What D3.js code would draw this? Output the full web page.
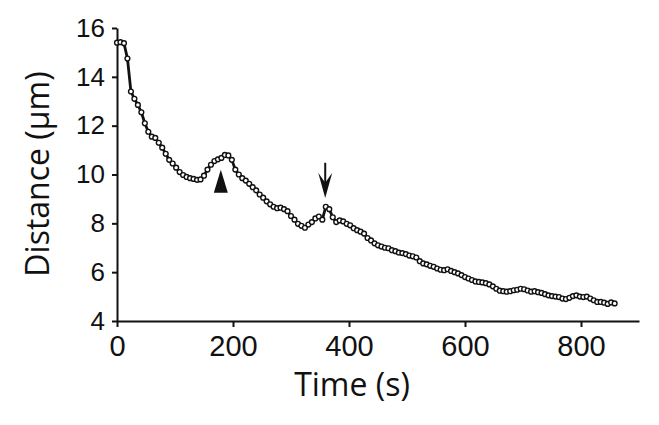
<!DOCTYPE html>
<head>
    <title>Distance vs time</title>
    <script src="https://d3js.org/d3.v7.min.js" charset="utf-8"></script>
    <style>
    body{
        margin: 0;
        background: #fff;
    }
    .axis path, .axis line { stroke: #111; stroke-width: 2px; }
    .axis text { fill: #111; font-family: "Liberation Sans", Arial, sans-serif; }
    .ylab text { font-size: 26px; }
    .xlab text { font-size: 29px; }
    text.title {
        font-family: "Open Sans", sans-serif;
        font-size: 32px;
        fill: #111;
        text-anchor: middle;
    }
    path.trace { fill: none; stroke: #111; stroke-width: 2.8px; }
    circle.pt { fill: #fff; stroke: #111; stroke-width: 1.4px; }
    </style>
</head>
<body>
<svg id="chart" width="659" height="425"></svg>

<script>
    // data: time (s) and distance (um)
    var times = [0,6,12,18,24,30,36,42,48,54,60,66,72,78,84,90,96,102,108,114,
        120,126,132,138,144,150,156,162,168,174,180,186,192,198,204,210,216,222,228,234,
        240,246,252,258,264,270,276,282,288,294,300,306,312,318,324,330,336,342,348,354,
        360,366,372,378,384,390,396,402,408,414,420,426,432,438,444,450,456,462,468,474,
        480,486,492,498,504,510,516,522,528,534,540,546,552,558,564,570,576,582,588,594,
        600,606,612,618,624,630,636,642,648,654,660,666,672,678,684,690,696,702,708,714,
        720,726,732,738,744,750,756,762,768,774,780,786,792,798,804,810,816,822,828,834,
        840,846,852,858];
    var distance = [15.40,15.42,15.38,14.75,13.40,13.10,12.85,12.55,12.10,11.75,11.55,11.50,11.30,11.10,10.85,10.60,10.45,10.28,10.10,9.98,
        9.90,9.85,9.82,9.78,9.80,9.95,10.20,10.40,10.55,10.62,10.68,10.80,10.78,10.60,10.20,10.00,9.85,9.75,9.62,9.48,
        9.35,9.18,9.05,8.90,8.78,8.68,8.62,8.64,8.58,8.50,8.30,8.15,7.98,7.90,7.82,7.95,8.05,8.20,8.28,8.15,
        8.68,8.58,8.25,8.05,8.12,8.08,7.98,7.92,7.80,7.72,7.66,7.58,7.40,7.30,7.18,7.10,7.05,7.00,6.98,6.90,
        6.86,6.80,6.78,6.74,6.68,6.65,6.60,6.45,6.36,6.32,6.26,6.22,6.15,6.10,6.08,6.12,6.05,6.00,5.95,5.88,
        5.80,5.74,5.68,5.62,5.60,5.58,5.55,5.50,5.42,5.32,5.24,5.22,5.20,5.22,5.26,5.28,5.32,5.30,5.25,5.20,
        5.22,5.18,5.15,5.10,5.05,5.02,5.00,4.98,4.92,4.90,4.95,5.02,5.05,5.00,4.98,5.00,4.92,4.85,4.78,4.78,
        4.75,4.70,4.76,4.72];

    var xTicks = [0,200,400,600,800];
    var yTicks = [4,6,8,10,12,14,16];

    // markers: arrowhead under first peak, arrow above second
    var headMark = {t: 179, top: 10.19, base: 9.25};
    var arrowMark = {t: 359, top: 10.48, tip: 9.04, barb: 10.07, notch: 9.66};

    var svg = d3.select("#chart");

    var xScale = d3.scaleLinear().domain([0,900]).range([117,639]);
    var yScale = d3.scaleLinear().domain([4,16]).range([321,28]);

    var pts = times.map(function(t,i){ return {t:t, v:distance[i]}; });

    svg.append("g")
        .attr("class","axis ylab")
        .attr("transform","translate("+xScale(0)+",0)")
        .call(d3.axisLeft(yScale).tickValues(yTicks).tickSize(5).tickSizeOuter(0).tickPadding(7));

    svg.append("g")
        .attr("class","axis xlab")
        .attr("transform","translate(0,"+yScale(4)+")")
        .call(d3.axisBottom(xScale).tickValues(xTicks).tickSize(6).tickSizeOuter(0).tickPadding(8));

    var line = d3.line()
        .x(function(d){ return xScale(d.t); })
        .y(function(d){ return yScale(d.v); });

    svg.append("path").datum(pts).attr("class","trace").attr("d",line);

    svg.selectAll(".pt")
        .data(pts)
        .enter().append("circle")
        .attr("class","pt")
        .attr("cx", function(d){ return xScale(d.t); })
        .attr("cy", function(d){ return yScale(d.v); })
        .attr("r", 2.4);

    // filled arrowhead
    var hx = xScale(headMark.t);
    svg.append("path")
        .attr("d","M"+hx+","+yScale(headMark.top)+" L"+(hx+7)+","+yScale(headMark.base)+" L"+(hx-7)+","+yScale(headMark.base)+" Z")
        .style("fill","#111");

    // down arrow
    var ax = xScale(arrowMark.t);
    svg.append("line")
        .attr("x1",ax).attr("x2",ax)
        .attr("y1",yScale(arrowMark.top)).attr("y2",yScale(arrowMark.notch)+4)
        .style("stroke","#111").style("stroke-width",2);
    svg.append("path")
        .attr("d","M"+(ax-7)+","+yScale(arrowMark.barb)+" L"+ax+","+yScale(arrowMark.tip)+" L"+(ax+7)+","+yScale(arrowMark.barb)+" L"+ax+","+yScale(arrowMark.notch)+" Z")
        .style("fill","#111");

    // axis titles
    svg.append("text").attr("class","title")
        .attr("x",352).attr("y",396)
        .text("Time (s)");

    svg.append("text").attr("class","title")
        .attr("transform","translate(49,174) rotate(-90)")
        .text("Distance (\u00b5m)");
</script>
</body>
